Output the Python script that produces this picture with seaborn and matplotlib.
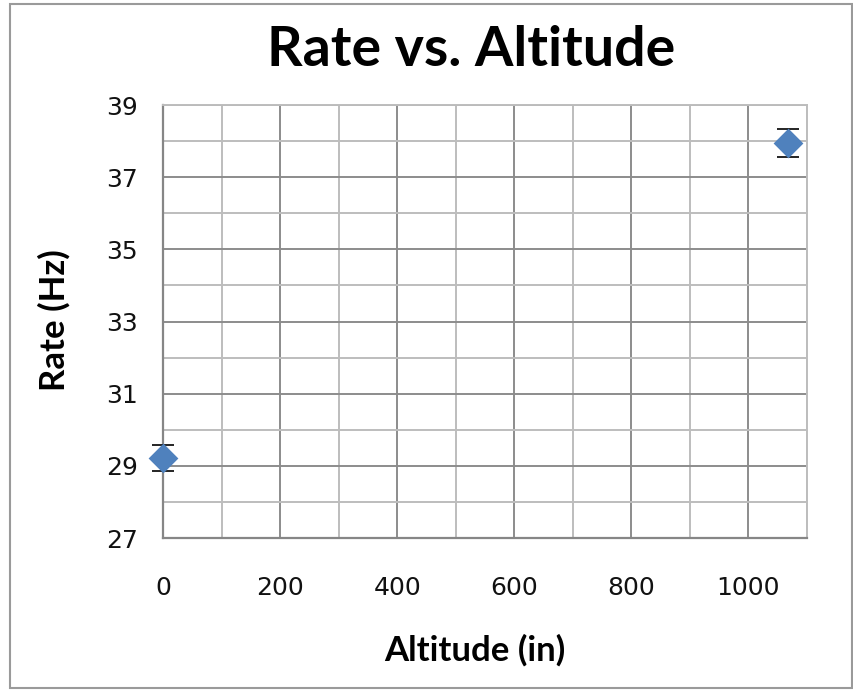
import matplotlib
matplotlib.use("Agg")
import matplotlib.pyplot as plt
import seaborn as sns
import pandas as pd
from matplotlib.patches import Rectangle

# --- data ---
altitude = [0, 1067]
rate = [29.22, 37.95]
rate_err = [0.35, 0.38]

x_major = [0, 200, 400, 600, 800, 1000]
x_minor = [100, 300, 500, 700, 900, 1100]
y_major = [27, 29, 31, 33, 35, 37, 39]
y_minor = [28, 30, 32, 34, 36, 38]

df = pd.DataFrame({"Altitude": altitude, "Rate": rate, "err": rate_err})

sns.set_theme(style="white")
plt.rcParams['font.family'] = ['DejaVu Sans']

fig = plt.figure(figsize=(8.54, 6.91), dpi=100)
ax = fig.add_axes([0.1909, 0.2214, 0.754, 0.6266])

ax.errorbar(df["Altitude"], df["Rate"], yerr=df["err"], fmt="none",
            ecolor="black", elinewidth=1.2, capsize=8, capthick=1.2,
            zorder=3, clip_on=False)
sns.scatterplot(data=df, x="Altitude", y="Rate", marker="D", s=230,
                color="#4F81BD", edgecolor="#4F81BD", linewidth=0, zorder=4,
                clip_on=False, ax=ax)

ax.set_xlim(0, 1100)
ax.set_ylim(27, 39)
ax.set_xticks(x_major)
ax.set_xticks(x_minor, minor=True)
ax.set_yticks(y_major)
ax.set_yticks(y_minor, minor=True)

ax.grid(which="major", color="#8c8c8c", linewidth=1.4)
ax.grid(which="minor", color="#bdbdbd", linewidth=1.4)
ax.set_axisbelow(True)

for side in ["left", "bottom"]:
    ax.spines[side].set_color("#868686")
    ax.spines[side].set_linewidth(1.6)
for side in ["top", "right"]:
    ax.spines[side].set_color("#bdbdbd")
    ax.spines[side].set_linewidth(1.4)

ax.tick_params(which="major", direction="out", length=8, width=1.4,
               color="#868686", labelsize=18, labelcolor="#111111")
ax.tick_params(which="minor", direction="in", length=6, width=1.4,
               color="#868686")
ax.tick_params(axis="x", which="major", pad=19)
ax.tick_params(axis="y", which="major", pad=10)

ax.set_xlabel("")
ax.set_ylabel("")
label_font = ["Lato", "DejaVu Sans"]
fig.text(0.556, 0.059, "Altitude (in)", ha="center", va="center",
         fontsize=25, fontweight="bold", family=label_font, color="black")
fig.text(0.063, 0.537, "Rate (Hz)", ha="center", va="center", rotation=90,
         fontsize=25, fontweight="bold", family=label_font, color="black")

fig.text(0.552, 0.928, "Rate vs. Altitude", ha="center", va="center",
         fontsize=40, fontweight="bold", family=label_font, color="black")

fig.patches.append(Rectangle((0.012, 0.004), 0.986, 0.99, transform=fig.transFigure,
                             fill=False, edgecolor="#9a9a9a", linewidth=1.5))

fig.savefig("out.png", dpi=100)
